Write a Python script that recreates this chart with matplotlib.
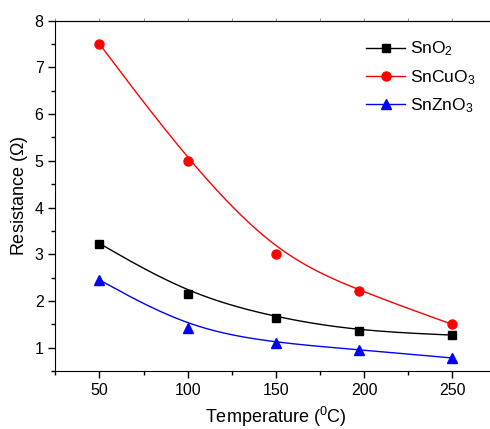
import numpy as np
import matplotlib
matplotlib.use('Agg')
import matplotlib.pyplot as plt
from matplotlib.ticker import MultipleLocator

plt.rcParams['font.family'] = ['Liberation Sans', 'DejaVu Sans']
plt.rcParams['mathtext.fontset'] = 'custom'
plt.rcParams['mathtext.rm'] = 'Liberation Sans'
plt.rcParams['mathtext.it'] = 'Liberation Sans:italic'

# data
temperature = np.array([50, 100, 150, 197, 250])
r_sno2 = np.array([3.23, 2.15, 1.64, 1.36, 1.27])
r_sncuo3 = np.array([7.50, 5.00, 3.00, 2.22, 1.50])
r_snzno3 = np.array([2.45, 1.42, 1.10, 0.96, 0.78])

labels = ['SnO$_2$', 'SnCuO$_3$', 'SnZnO$_3$']

# uniform cubic B-spline basis matrix
BM = np.array([[-1, 3, -3, 1],
               [3, -6, 3, 0],
               [-3, 0, 3, 0],
               [1, 4, 1, 0]]) / 6.0


def bspline(x, y, n=60):
    # data points as control points, end points repeated so the curve ends on them
    P = np.column_stack([x, y]).astype(float)
    P = np.vstack([P[:1], P[:1], P, P[-1:], P[-1:]])
    t = np.linspace(0, 1, n)
    T = np.column_stack([t ** 3, t ** 2, t, np.ones_like(t)])
    pts = [T @ BM @ P[i:i + 4] for i in range(len(P) - 3)]
    pts = np.vstack(pts)
    return pts[:, 0], pts[:, 1]


fig = plt.figure(figsize=(4.9, 4.29), dpi=100)
ax = fig.add_axes([0.113, 0.135, 0.9, 0.817])

series = [(r_sno2, 'black', 's', 5.2), (r_sncuo3, 'red', 'o', 6.5), (r_snzno3, 'blue', '^', 7)]
for (y, c, m, ms), lab in zip(series, labels):
    bx, by = bspline(temperature, y)
    ax.plot(bx, by, color=c, lw=1.0)
    ax.plot(temperature, y, linestyle='none', marker=m, color=c, ms=ms)
    ax.plot([], [], color=c, lw=1.0, marker=m, ms=ms, label=lab)

ax.set_xlim(25, 275)
ax.set_ylim(0.5, 8)
ax.xaxis.set_major_locator(MultipleLocator(50))
ax.xaxis.set_minor_locator(MultipleLocator(25))
ax.yaxis.set_major_locator(MultipleLocator(1))
ax.yaxis.set_minor_locator(MultipleLocator(0.5))
ax.tick_params(which='both', direction='out', labelsize=11.5, width=1)
ax.tick_params(which='major', length=5)
ax.tick_params(which='minor', length=3)
ax.spines['right'].set_visible(False)

top = ax.secondary_xaxis('top')
top.xaxis.set_major_locator(MultipleLocator(25))
top.tick_params(length=2, width=0.6, color='#888888', labeltop=False)

ax.set_xlabel('Temperature ($\\mathregular{^0}$C)', fontsize=13, labelpad=5)
ax.set_ylabel('Resistance ($\\Omega$)', fontsize=13, labelpad=3)

ax.legend(loc='upper left', bbox_to_anchor=(0.67, 0.99), frameon=False,
          fontsize=12.5, handlelength=2.2, handletextpad=0.3, labelspacing=0.55)

fig.savefig('out.png', dpi=100)
